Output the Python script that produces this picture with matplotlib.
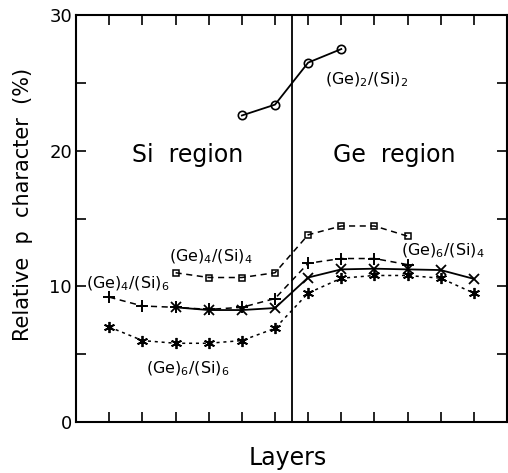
import matplotlib
matplotlib.use('Agg')
import matplotlib.pyplot as plt

# layer index along the x axis; interface sits at 6.5
x_ge2si2 = [5, 6, 7, 8]
y_ge2si2 = [22.6, 23.4, 26.5, 27.5]

x_ge4si4 = [3, 4, 5, 6, 7, 8, 9, 10]
y_ge4si4 = [11.0, 10.65, 10.65, 11.0, 13.8, 14.45, 14.45, 13.7]

x_ge4si6 = [1, 2, 3, 4, 5, 6, 7, 8, 9, 10]
y_ge4si6 = [9.2, 8.55, 8.45, 8.3, 8.45, 9.1, 11.7, 12.05, 12.05, 11.6]

x_ge6si4 = [3, 4, 5, 6, 7, 8, 9, 10, 11, 12]
y_ge6si4 = [8.45, 8.25, 8.25, 8.4, 10.65, 11.25, 11.3, 11.25, 11.2, 10.55]

x_ge6si6 = [1, 2, 3, 4, 5, 6, 7, 8, 9, 10, 11, 12]
y_ge6si6 = [7.0, 6.0, 5.8, 5.8, 6.0, 6.9, 9.5, 10.6, 10.8, 10.8, 10.6, 9.5]

asterisk = (6, 2, 0)

fig = plt.figure(figsize=(5.08, 4.73), dpi=100)
ax = fig.add_axes([0.150, 0.108, 0.848, 0.860])

ax.plot(x_ge2si2, y_ge2si2, color='black', lw=1.3, marker='o', ms=6,
        mfc='none', mew=1.2)
ax.plot(x_ge4si4, y_ge4si4, color='black', lw=1.1, dashes=(4, 3),
        marker='s', ms=5, mfc='none', mew=1.1)
ax.plot(x_ge4si6, y_ge4si6, color='black', lw=1.1, dashes=(4, 3),
        marker='+', ms=9, mew=1.4)
ax.plot(x_ge6si4, y_ge6si4, color='black', lw=1.3, marker='x', ms=7, mew=1.3)
ax.plot(x_ge6si6, y_ge6si6, color='black', lw=1.1, dashes=(2, 2.5),
        marker=asterisk, ms=8, mew=1.3)

ax.axvline(6.5, color='black', lw=1.3)

ax.set_xlim(0, 13)
ax.set_ylim(0, 30)
ax.set_xticks(range(1, 13))
ax.set_xticklabels([])
ax.set_yticks([0, 10, 20, 30])
ax.set_yticks([5, 15, 25], minor=True)
ax.tick_params(which='both', direction='in', top=True, right=True,
               width=1.2, labelsize=13)
ax.tick_params(which='major', length=7, pad=3)
ax.tick_params(which='minor', length=7)
for s in ax.spines.values():
    s.set_linewidth(1.5)

ax.set_xlabel('Layers', fontsize=17)
ax.xaxis.set_label_coords(0.49, -0.058)
ax.set_ylabel('Relative  p  character  (%)', fontsize=15)
ax.yaxis.set_label_coords(-0.10, 0.535)

ax.text(3.35, 19.7, 'Si  region', fontsize=17, ha='center', va='center')
ax.text(9.6, 19.7, 'Ge  region', fontsize=17, ha='center', va='center')

lab = dict(fontsize=11.5, ha='left', va='center')
ax.text(7.5, 25.2, '(Ge)$_2$/(Si)$_2$', **lab)
ax.text(2.8, 12.2, '(Ge)$_4$/(Si)$_4$', **lab)
ax.text(0.3, 10.2, '(Ge)$_4$/(Si)$_6$', **lab)
ax.text(9.8, 12.6, '(Ge)$_6$/(Si)$_4$', **lab)
ax.text(2.1, 3.9, '(Ge)$_6$/(Si)$_6$', **lab)

plt.savefig('out.png', dpi=100)
plt.close()
